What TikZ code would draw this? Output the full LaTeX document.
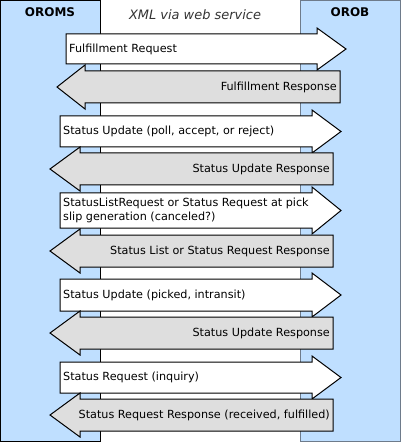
\documentclass[tikz,border=0pt]{standalone}
\usepackage{fontspec}
\setmainfont{DejaVu Sans}
\definecolor{laneblue}{HTML}{BFDFFF}
\definecolor{laneedge}{HTML}{6E7B8B}
\definecolor{respgray}{HTML}{DEDEDE}
\definecolor{titlegray}{HTML}{333333}
\begin{document}
\begin{tikzpicture}[x=1bp,y=-1bp,
    lane/.style={fill=laneblue,line width=1bp},
    reqarrow/.style={draw=black,fill=white,line width=1bp},
    resparrow/.style={draw=black,fill=respgray,line width=1bp},
    msgtext/.style={inner xsep=3bp,inner ysep=0bp,align=left,font=\fontsize{11.25}{13.5}\selectfont},
    lanetitle/.style={font=\fontsize{12}{14}\selectfont\bfseries}]
    \useasboundingbox (0,0) rectangle (400,442);

    % Spalten
    \draw[lane,draw=black] (0.5,0.5) rectangle (100,441);
    \draw[lane,draw=laneedge] (300,1) rectangle (400,441.5);

    \node[lanetitle] (oroms) at (50,12) {OROMS};
    \node[lanetitle] (orob) at (350,12) {OROB};
    \node[font=\fontsize{13}{15}\selectfont\itshape,text=titlegray] (xml) at (195,15) {XML via web service};

    % Anfragen (nach rechts)
    \foreach \nm/\xl/\xh/\ya/\yb/\txt in {
        req1/66/317/34/64/{Fulfillment Request},
        req2/60/312/116/147/{Status Update (poll, accept, or reject)},
        req3/60/312/193/228/{StatusListRequest or Status Request at pick\\slip generation (canceled?)},
        req4/60/312/279/311/{Status Update (picked, intransit)},
        req5/60/312/362/393/{Status Request (inquiry)}}
    {
        \draw[reqarrow] (\xl,\ya) -- (\xh,\ya) -- (\xh,\ya-6) -- (\xh+29,{(\ya+\yb)/2})
            -- (\xh,\yb+6) -- (\xh,\yb) -- (\xl,\yb) -- cycle;
        \node[msgtext,anchor=west] (\nm) at (\xl,{(\ya+\yb)/2}) {\txt};
    }

    % Antworten (nach links)
    \foreach \nm/\xt/\xh/\xr/\ya/\yb/\txt in {
        resp1/57/85/340/71/103/{Fulfillment Response},
        resp2/50/80/333/153/185/{Status Update Response},
        resp3/50/80/333/235/267/{Status List or Status Request Response},
        resp4/50/80/333/317/349/{Status Update Response},
        resp5/50/80/333/399/431/{Status Request Response (received, fulfilled)}}
    {
        \draw[resparrow] (\xr,\ya) -- (\xh,\ya) -- (\xh,\ya-6) -- (\xt,{(\ya+\yb)/2})
            -- (\xh,\yb+6) -- (\xh,\yb) -- (\xr,\yb) -- cycle;
        \node[msgtext,anchor=east] (\nm) at (\xr,{(\ya+\yb)/2}) {\txt};
    }
\end{tikzpicture}
\end{document}
